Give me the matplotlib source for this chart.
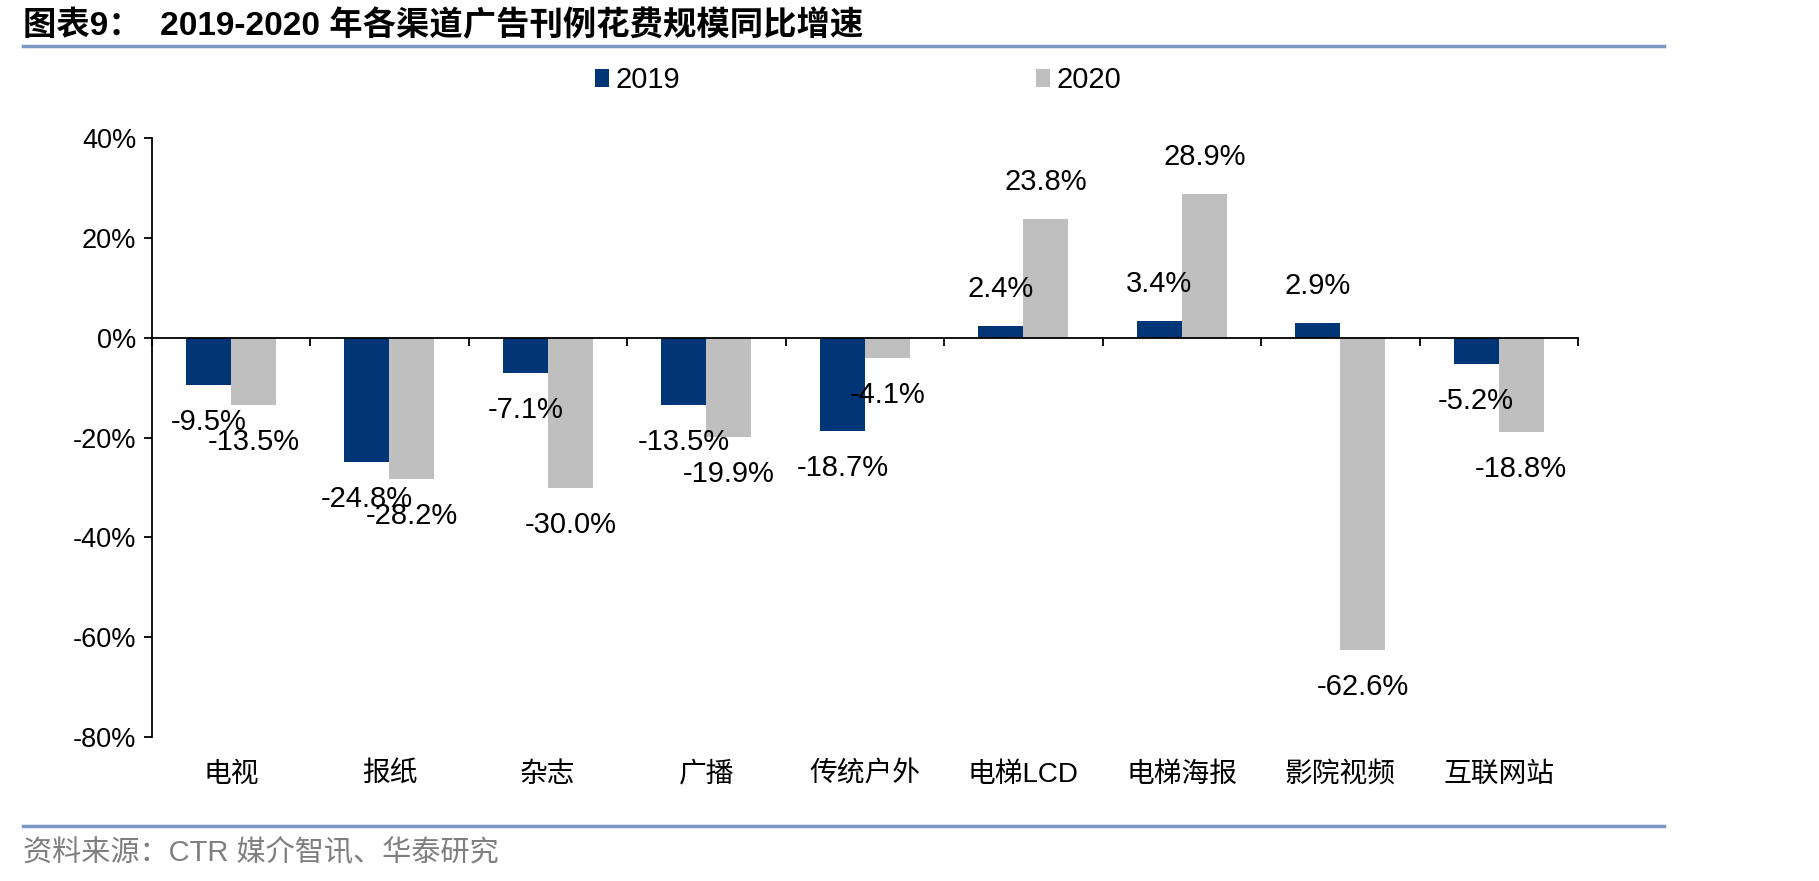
import numpy as np
import matplotlib
matplotlib.use("Agg")
import matplotlib.pyplot as plt
from matplotlib.lines import Line2D
from matplotlib.ticker import FixedLocator

plt.rcParams['font.family'] = ['Liberation Sans', 'Noto Sans CJK SC', 'DejaVu Sans']

categories = ["电视", "报纸", "杂志", "广播", "传统户外", "电梯LCD", "电梯海报", "影院视频", "互联网站"]
growth_2019 = [-9.5, -24.8, -7.1, -13.5, -18.7, 2.4, 3.4, 2.9, -5.2]
growth_2020 = [-13.5, -28.2, -30.0, -19.9, -4.1, 23.8, 28.9, -62.6, -18.8]
series_names = ["2019", "2020"]
y_ticks = [-80, -60, -40, -20, 0, 20, 40]

navy = "#003676"
grey = "#bfbfbf"
rule = "#7b97c4"

fig = plt.figure(figsize=(18.19, 8.81), dpi=100)
ax = fig.add_axes([0.0834, 0.1634, 0.7841, 0.6796])

x = np.arange(len(categories))
w = 0.284
b1 = ax.bar(x - w / 2, growth_2019, w, color=navy, label=series_names[0])
b2 = ax.bar(x + w / 2, growth_2020, w, color=grey, label=series_names[1])

# data labels, ~37px past the bar end
for bars, vals in ((b1, growth_2019), (b2, growth_2020)):
    for r, v in zip(bars, vals):
        off = 26.6 if v >= 0 else -26.6
        ax.annotate(f"{v:.1f}%", xy=(r.get_x() + r.get_width() / 2, v),
                    xytext=(0, off), textcoords="offset points",
                    ha="center", va="center", fontsize=21)

ax.set_xlim(-0.5, len(categories) - 0.5)
ax.set_ylim(-80, 40)
ax.set_yticks(y_ticks)
ax.set_yticklabels([f"{t}%" for t in y_ticks], fontsize=19.5)

for s in ("top", "right"):
    ax.spines[s].set_visible(False)
ax.spines["left"].set_linewidth(1.3)
ax.spines["bottom"].set_position(("data", 0))
ax.spines["bottom"].set_linewidth(1.3)
ax.tick_params(axis="y", direction="out", length=6, width=1.3, pad=5)

# boundary ticks on the zero line, category names at the bottom
ax.set_xticks([])
ax.xaxis.set_minor_locator(FixedLocator(np.arange(len(categories) + 1) - 0.5))
ax.tick_params(axis="x", which="minor", direction="out", length=6, width=1.3)
for i, c in enumerate(categories):
    ax.annotate(c, xy=(i, 0), xycoords=("data", "axes fraction"),
                xytext=(0, -27), textcoords="offset points",
                ha="center", va="center", fontsize=20)

fig.legend(handles=[b1, b2], labels=series_names, loc="center left",
           bbox_to_anchor=(0.327, 0.909), ncol=2, frameon=False, fontsize=21,
           handlelength=0.48, handleheight=0.55, handletextpad=0.22,
           columnspacing=12.2, borderaxespad=0, borderpad=0)

fig.text(0.0126, 0.971, "图表9：  2019-2020 年各渠道广告刊例花费规模同比增速",
         fontsize=24, fontweight="bold", ha="left", va="center")
fig.add_artist(Line2D([0.0126, 0.915], [0.948, 0.948], color=rule, linewidth=2.5))
fig.add_artist(Line2D([0.0126, 0.915], [0.0625, 0.0625], color=rule, linewidth=2.5))
fig.text(0.0126, 0.032, "资料来源：CTR 媒介智讯、华泰研究", fontsize=21,
         color="#7f7f7f", ha="left", va="center")

fig.savefig("out.png", dpi=100)
